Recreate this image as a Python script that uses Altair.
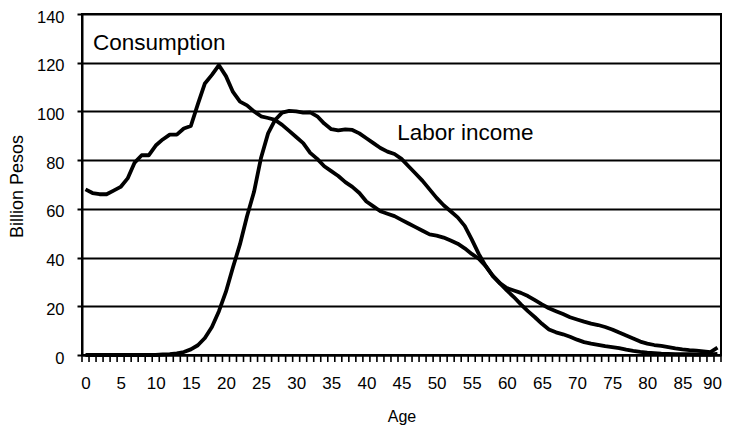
import altair as alt
import pandas as pd

ages = list(range(0, 91))

consumption = [
    68, 66.5, 66, 66, 67.5, 69, 72.5, 79, 82, 82,
    86, 88.5, 90.5, 90.5, 93, 94, 103, 111.5, 115, 119,
    114.5, 108, 104, 102.5, 100, 98, 97.3, 96.5, 94.5, 92,
    89.5, 87, 83, 80.5, 77.5, 75.5, 73.5, 71, 69, 66.5,
    63, 61, 59, 58, 57, 55.5, 54, 52.5, 51, 49.5,
    49, 48.2, 47, 45.7, 43.8, 41.5, 39.5, 36.5, 32.5, 29.5,
    27.5, 26.5, 25.5, 24.2, 22.5, 20.8, 19.2, 18, 16.8, 15.5,
    14.6, 13.7, 12.9, 12.3, 11.5, 10.5, 9.2, 8, 6.8, 5.5,
    4.7, 4.1, 3.7, 3.2, 2.7, 2.3, 2, 1.8, 1.5, 1.2,
    3,
]

labor_income = [
    0, 0, 0, 0, 0, 0, 0, 0, 0, 0,
    0, 0.2, 0.4, 0.7, 1.2, 2.3, 4, 7, 11.5, 18,
    26, 36, 45.5, 57, 67, 81, 91, 96.5, 99.5, 100.2,
    100, 99.5, 99.6, 98, 95, 92.7, 92.2, 92.6, 92.4, 91,
    89, 87, 85, 83.5, 82.5, 80.5, 77.5, 74.5, 71.5, 68,
    64.5, 61.5, 59, 56.5, 53, 47.5, 41.5, 36.5, 32.5, 29.5,
    26.5, 23.8, 20.8, 18, 15.5, 12.8, 10.5, 9.3, 8.5, 7.5,
    6.3, 5.3, 4.7, 4.2, 3.6, 3.2, 2.8, 2.2, 1.7, 1.3,
    1, 0.8, 0.6, 0.5, 0.4, 0.3, 0.3, 0.2, 0.2, 0.2,
    0.5,
]

x_labels = list(range(0, 91, 5))
y_ticks = list(range(0, 141, 20))

annot_text = ["Consumption", "Labor income"]
annot_x = [1.07, 44.4]
annot_y = [128.1, 91.3]

FONT = "Liberation Sans"

df = pd.DataFrame({
    "Age": ages * 2,
    "value": consumption + labor_income,
    "series": ["Consumption"] * len(ages) + ["Labor income"] * len(ages),
})

bounds = [a - 0.5 for a in ages] + [ages[-1] + 0.5]
df_ticks = pd.DataFrame({"b": bounds})
df_annot = pd.DataFrame({"t": annot_text, "x": annot_x, "y": annot_y})

xscale = alt.Scale(domain=[-0.5, 90.5], nice=False, zero=False)
yscale = alt.Scale(domain=[0, 140], nice=False)

xaxis = alt.Axis(values=x_labels, ticks=False, grid=False, title="Age",
                 labelFontSize=17, labelFont=FONT, labelColor="black",
                 labelPadding=20, labelOverlap=False, labelFlush=False,
                 labelSeparation=0,
                 labelAlign={"condition": {"test": "datum.value >= 90", "value": "right"},
                             "value": "center"},
                 labelOffset={"condition": {"test": "datum.value >= 90", "value": 4},
                              "value": 0},
                 titleFontSize=16, titleFont=FONT,
                 titleFontWeight="normal", titleColor="black",
                 titleY=61, titleBaseline="middle",
                 domainColor="black", domainWidth=2)

yaxis = alt.Axis(values=y_ticks, grid=True, gridColor="black", gridWidth=2,
                 gridOpacity=1, tickSize=5, tickColor="black", tickWidth=2,
                 title="Billion Pesos", labelFontSize=16.5, labelFont=FONT,
                 labelColor="black", labelPadding=13, labelOffset=3,
                 labelOverlap=False,
                 titleFontSize=18, titleFont=FONT, titleFontWeight="normal",
                 titleColor="black", titleAngle=270, titleAlign="center",
                 titleBaseline="middle", titleX=-65, titleY=172,
                 domainColor="black", domainWidth=2)

lines = alt.Chart(df).mark_line(color="black", strokeWidth=3.8, strokeJoin="round").encode(
    x=alt.X("Age:Q", scale=xscale, axis=xaxis),
    y=alt.Y("value:Q", scale=yscale, axis=yaxis),
    detail="series:N",
)

ticks = alt.Chart(df_ticks).mark_rule(color="black", strokeWidth=1.6).encode(
    x=alt.X("b:Q", scale=xscale, axis=xaxis),
    y=alt.value(341),
    y2=alt.value(348),
)

annot = alt.Chart(df_annot).mark_text(
    align="left", baseline="middle", fontSize=22.5, font=FONT, color="black"
).encode(
    x=alt.X("x:Q", scale=xscale, axis=xaxis),
    y=alt.Y("y:Q", scale=yscale, axis=yaxis),
    text="t:N",
)

chart = alt.layer(lines, ticks, annot).properties(
    width=639,
    height=341,
    background="white",
    autosize=alt.AutoSizeParams(type="none"),
    padding={"left": 74, "top": 6, "right": 1, "bottom": 70},
).configure_view(stroke="black", strokeWidth=2)

chart.save("out.html", embed_options={"renderer": "svg", "actions": False})
